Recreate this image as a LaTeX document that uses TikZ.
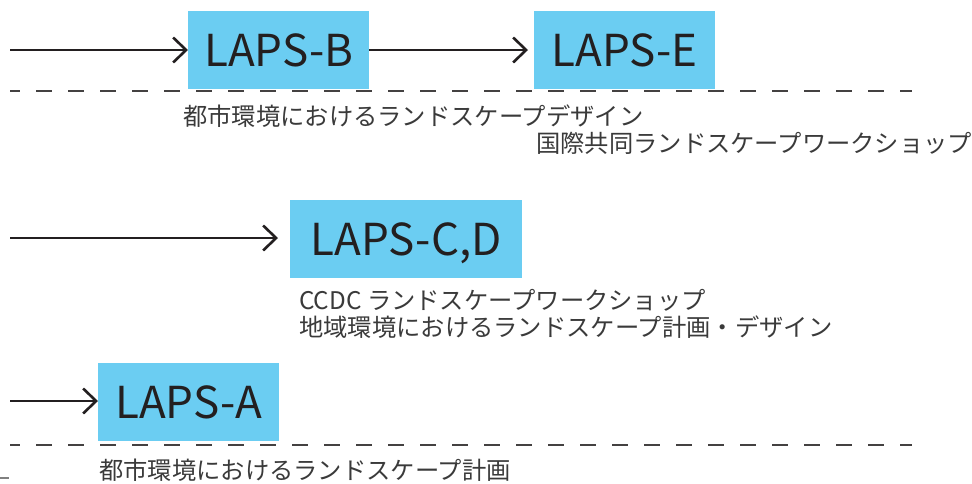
\documentclass[tikz,border=0pt]{standalone}
\usepackage{fontspec}
\setmainfont{Noto Sans CJK JP}
\usetikzlibrary{arrows.meta}
\definecolor{boxblue}{HTML}{6BCDF2}
\definecolor{ink}{HTML}{231F20}
\definecolor{labelink}{HTML}{3A3A3A}
\tikzset{
  lapsbox/.style={fill=boxblue, inner sep=0pt, anchor=north west, text=ink,
    font=\fontsize{44}{44}\selectfont, text depth=0pt, minimum height=78pt},
  flow/.style={draw=ink, line width=2.6pt, -{Straight Barb[length=13pt,width=25pt,line width=2.6pt]}},
  sep/.style={draw=ink!85, line width=1.6pt, dash pattern=on 16pt off 16pt, dash phase=6pt},
  lbl/.style={anchor=base west, inner sep=0pt, text=labelink, font=\fontsize{24.3}{24.3}\selectfont}
}
\begin{document}
\begin{tikzpicture}[x=1pt,y=-1pt]
\useasboundingbox (0,0) rectangle (972,483);
% boxes
\node[lapsbox, minimum width=181pt] (B) at (188,11) {LAPS-B\hspace{20pt}};
\node[lapsbox, minimum width=181pt] (E) at (534,11) {LAPS-E};
\node[lapsbox, minimum width=232pt] (CD) at (290,200) {LAPS-C,D};
\node[lapsbox, minimum width=181pt] (A) at (98,363) {LAPS-A};
% free ends
\coordinate (sB) at (10,50);
\coordinate (sCD) at (10,238);
\coordinate (sA) at (10,401);
% arrows
\draw[flow] (sB) -- (B.west |- sB);
\draw[flow, shorten >=6pt] (B.east |- sB) -- (E.west |- sB);
\draw[flow, shorten >=12pt] (sCD) -- (CD.west |- sCD);
\draw[flow] (sA) -- (A.west |- sA);
% dashed separators
\coordinate (d1a) at (10,91); \coordinate (d1b) at (912,91);
\coordinate (d2a) at (10,445); \coordinate (d2b) at (912,445);
\draw[sep] (d1a) -- (d1b);
\draw[sep] (d2a) -- (d2b);
% labels
\node[lbl] (l1) at (183,125.5) {都市環境におけるランドスケープデザイン};
\node[lbl] (l2) at (536,152) {国際共同ランドスケープワークショップ};
\node[lbl] (l3) at (299,309) {CCDC ランドスケープワークショップ};
\node[lbl] (l4) at (299,336) {地域環境におけるランドスケープ計画・デザイン};
\node[lbl] (l5) at (99,479) {都市環境におけるランドスケープ計画};
% small mark
\coordinate (m1) at (0,478); \coordinate (m2) at (9,478);
\draw[gray, line width=1.6pt] (m1) -- (m2);
\end{tikzpicture}
\end{document}
